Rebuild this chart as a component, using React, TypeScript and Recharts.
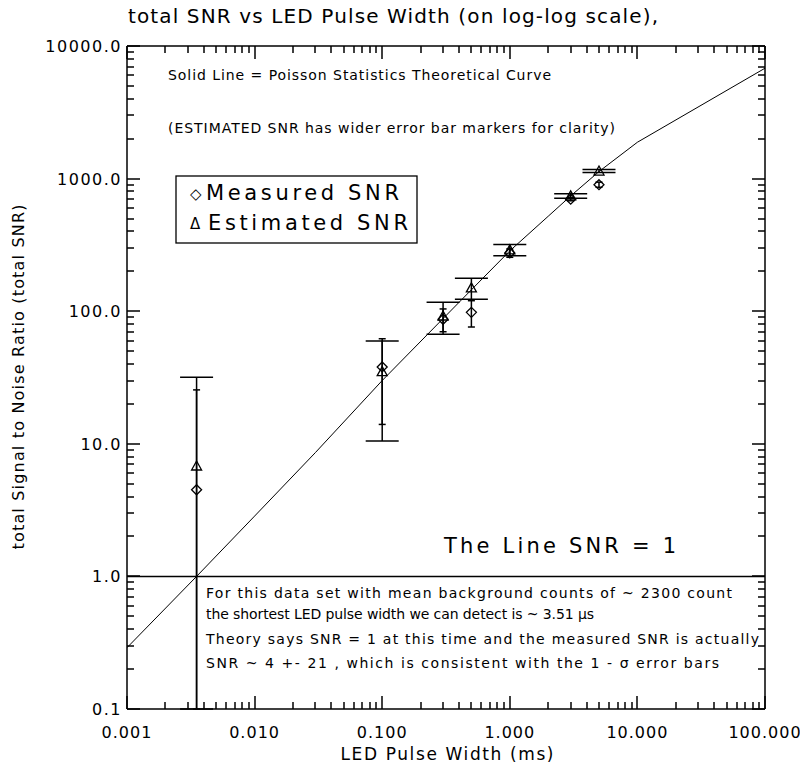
// total SNR vs LED pulse width, log-log, with Poisson theory curve

import React from 'react';
import { ScatterChart, Scatter, XAxis, YAxis, ErrorBar, ReferenceLine, Customized } from 'recharts';

// measured / estimated points (pulse width in ms)
const pulseWidth = [0.00351, 0.1, 0.3, 0.5, 1.0, 3.0, 5.0];
const measuredSnr = [4.5, 38, 87, 98, 275, 700, 900];
const measuredErr = [21, 24, 17, 22, 20, 20, 40];
const estimatedSnr = [6.8, 35, 92, 150, 290, 740, 1140];
const estimatedErr = [25, 24.5, 25, 27, 28, 30, 30];

// theoretical curve
const theoryWidth = [0.001, 0.00351, 0.01, 0.03, 0.1, 0.3, 0.5, 1, 2, 3, 5, 10, 100];
const theorySnr = [0.29, 1.0, 2.85, 8.6, 30, 88, 145, 285, 520, 740, 1130, 1880, 6800];

const xMajor = [0.001, 0.01, 0.1, 1, 10, 100];
const xLabels = ['0.001', '0.010', '0.100', '1.000', '10.000', '100.000'];
const yMajor = [0.1, 1, 10, 100, 1000, 10000];
const yLabels = ['0.1', '1.0', '10.0', '100.0', '1000.0', '10000.0'];

const X_DOMAIN: [number, number] = [0.001, 100];
const Y_DOMAIN: [number, number] = [0.1, 10000];

const W = 800;
const H = 769;
const PLOT = { left: 127, top: 46, right: 765, bottom: 709 };
const AX = 1; // thickness reserved by each axis
const MAJOR_LEN = 13;
const MINOR_LEN = 7;
const FONT = '"DejaVu Sans", sans-serif';

// minor log ticks 2..9 in every decade
const minorTicks = (majors: number[]) => {
  const out: number[] = [];
  majors.slice(0, -1).forEach((m) => {
    for (let k = 2; k <= 9; k++) out.push(+(m * k).toPrecision(6));
  });
  return out;
};
const xMinor = minorTicks(xMajor);
const yMinor = minorTicks(yMajor);

// same log mapping as the chart axes (domain -> plot box)
const lx = (v: number) =>
  PLOT.left +
  ((Math.log10(v) - Math.log10(X_DOMAIN[0])) / (Math.log10(X_DOMAIN[1]) - Math.log10(X_DOMAIN[0]))) *
    (PLOT.right - PLOT.left);
const ly = (v: number) =>
  PLOT.bottom -
  ((Math.log10(v) - Math.log10(Y_DOMAIN[0])) / (Math.log10(Y_DOMAIN[1]) - Math.log10(Y_DOMAIN[0]))) *
    (PLOT.bottom - PLOT.top);

const withErr = (vals: number[], errs: number[]) =>
  pulseWidth.map((x, i) => {
    const y = vals[i];
    const lo = Math.max(y - errs[i], Y_DOMAIN[0]);
    return { x, y, err: [y - lo, errs[i]] };
  });

const measured = withErr(measuredSnr, measuredErr);
const estimated = withErr(estimatedSnr, estimatedErr);
const theory = theoryWidth.map((x, i) => ({ x, y: theorySnr[i] }));

const labelIndex = (majors: number[], v: number) =>
  majors.findIndex((m) => Math.abs(m - v) / m < 1e-6);

const BottomLabel = (props: any) => {
  const { x, payload } = props;
  const i = labelIndex(xMajor, payload.value);
  if (i < 0) return <g />;
  return (
    <text x={x} y={738} textAnchor="middle" fontFamily={FONT} fontSize={16} letterSpacing={1} fill="#000">
      {xLabels[i]}
    </text>
  );
};

const LeftLabel = (props: any) => {
  const { y, payload } = props;
  const i = labelIndex(yMajor, payload.value);
  if (i < 0) return <g />;
  return (
    <text x={122} y={y + 6} textAnchor="end" fontFamily={FONT} fontSize={16} letterSpacing={1.5} fill="#000">
      {yLabels[i]}
    </text>
  );
};

const Diamond = (props: any) => {
  const { cx, cy } = props;
  return (
    <path
      d={`M${cx},${cy - 5}L${cx + 5},${cy}L${cx},${cy + 5}L${cx - 5},${cy}Z`}
      fill="none"
      stroke="#000"
      strokeWidth={1.3}
    />
  );
};

const Triangle = (props: any) => {
  const { cx, cy } = props;
  return (
    <path
      d={`M${cx},${cy - 5}L${cx + 5},${cy + 4}L${cx - 5},${cy + 4}Z`}
      fill="none"
      stroke="#000"
      strokeWidth={1.3}
    />
  );
};

const NoShape = () => <g />;

// IDL-style inward ticks on all four sides
function frameTicks() {
  const out: React.ReactElement[] = [];
  const xt = [...xMajor.map((v) => [v, MAJOR_LEN]), ...xMinor.map((v) => [v, MINOR_LEN])];
  const yt = [...yMajor.map((v) => [v, MAJOR_LEN]), ...yMinor.map((v) => [v, MINOR_LEN])];
  xt.forEach(([v, len], i) => {
    const x = Math.round(lx(v));
    out.push(<line key={`b${i}`} x1={x} y1={PLOT.bottom} x2={x} y2={PLOT.bottom - len} stroke="#000" strokeWidth={1.5} />);
    out.push(<line key={`t${i}`} x1={x} y1={PLOT.top} x2={x} y2={PLOT.top + len} stroke="#000" strokeWidth={1.5} />);
  });
  yt.forEach(([v, len], i) => {
    const y = Math.round(ly(v));
    out.push(<line key={`l${i}`} x1={PLOT.left} y1={y} x2={PLOT.left + len} y2={y} stroke="#000" strokeWidth={1.5} />);
    out.push(<line key={`r${i}`} x1={PLOT.right} y1={y} x2={PLOT.right - len} y2={y} stroke="#000" strokeWidth={1.5} />);
  });
  return out;
}

function Annotations() {
  return (
    <g fontFamily={FONT} fill="#000">
      <text x={128} y={23} fontSize={20} textLength={530}>
        total SNR vs LED Pulse Width (on log-log scale),
      </text>
      <text
        x={24}
        y={377}
        transform="rotate(-90 24 377)"
        textAnchor="middle"
        fontSize={16}
        textLength={345}
      >
        total Signal to Noise Ratio (total SNR)
      </text>
      <text x={447} y={760} textAnchor="middle" fontSize={17} textLength={213}>
        LED Pulse Width (ms)
      </text>

      <text x={168} y={80} fontSize={14} textLength={383}>
        Solid Line = Poisson Statistics Theoretical Curve
      </text>
      <text x={168} y={133} fontSize={14} textLength={447}>
        (ESTIMATED SNR has wider error bar markers for clarity)
      </text>

      {/* legend */}
      <rect x={176} y={176} width={241} height={67} fill="none" stroke="#000" strokeWidth={1.3} />
      <text x={190} y={199} fontSize={15}>◇</text>
      <text x={206} y={200} fontSize={21} textLength={193}>Measured SNR</text>
      <text x={190} y={229} fontSize={15}>Δ</text>
      <text x={208} y={230} fontSize={21} textLength={200}>Estimated SNR</text>

      <text x={444} y={553} fontSize={21} textLength={232}>
        The Line SNR = 1
      </text>

      <text x={206} y={598} fontSize={14} textLength={526}>
        For this data set with mean background counts of ~ 2300 count
      </text>
      <text x={206} y={619} fontSize={14} textLength={388}>
        the shortest LED pulse width we can detect is ~ 3.51 µs
      </text>
      <text x={206} y={644} fontSize={14} textLength={553}>
        Theory says SNR = 1 at this time and the measured SNR is actually
      </text>
      <text x={206} y={668} fontSize={14} textLength={513}>
        SNR ~ 4 +- 21 , which is consistent with the 1 - σ error bars
      </text>

      {frameTicks()}
    </g>
  );
}

export default function App() {
  const axisLine = { stroke: '#000', strokeWidth: 1.5 };
  const xCommon = {
    type: 'number' as const,
    scale: 'log' as const,
    domain: X_DOMAIN,
    allowDataOverflow: true,
    interval: 0 as const,
    height: AX,
    tickLine: false,
    axisLine,
  };
  const yCommon = {
    type: 'number' as const,
    scale: 'log' as const,
    domain: Y_DOMAIN,
    allowDataOverflow: true,
    interval: 0 as const,
    width: AX,
    tickLine: false,
    axisLine,
  };
  return (
    <div style={{ position: 'absolute', left: 0, top: 0, width: W, height: H, background: '#fff' }}>
      <ScatterChart
        width={W}
        height={H}
        margin={{
          top: PLOT.top - AX,
          right: W - PLOT.right - AX,
          bottom: H - PLOT.bottom - AX,
          left: PLOT.left - AX,
        }}
      >
        <XAxis {...xCommon} dataKey="x" ticks={xMajor} tick={BottomLabel} />
        <XAxis {...xCommon} xAxisId="t" orientation="top" ticks={xMajor} tick={false} />
        <YAxis {...yCommon} dataKey="y" ticks={yMajor} tick={LeftLabel} />
        <YAxis {...yCommon} yAxisId="r" orientation="right" ticks={yMajor} tick={false} />

        <ReferenceLine y={1} stroke="#000" strokeWidth={1.5} />

        <Scatter
          name="Theory"
          data={theory}
          line={{ stroke: '#000', strokeWidth: 1 }}
          shape={NoShape}
          isAnimationActive={false}
        />
        <Scatter name="Estimated SNR" data={estimated} shape={Triangle} isAnimationActive={false}>
          <ErrorBar dataKey="err" direction="y" width={16.5} stroke="#000" strokeWidth={1.5} />
        </Scatter>
        <Scatter name="Measured SNR" data={measured} shape={Diamond} isAnimationActive={false}>
          <ErrorBar dataKey="err" direction="y" width={3.5} stroke="#000" strokeWidth={1.5} />
        </Scatter>

        <Customized component={Annotations} />
      </ScatterChart>
    </div>
  );
}
